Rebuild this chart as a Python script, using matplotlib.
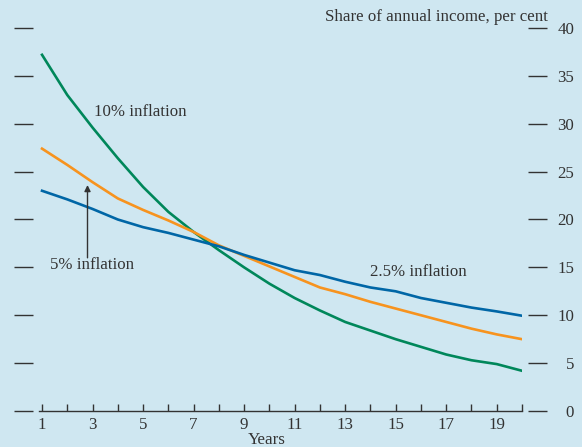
import matplotlib
matplotlib.use("Agg")
import matplotlib.pyplot as plt
import numpy as np

# data
years = list(range(1, 21))
infl_10 = [37.2, 33.0, 29.6, 26.4, 23.4, 20.8, 18.7, 16.8, 15.0, 13.3,
           11.8, 10.5, 9.3, 8.4, 7.5, 6.7, 5.9, 5.3, 4.9, 4.2]
infl_5 = [27.4, 25.7, 23.9, 22.2, 21.0, 19.9, 18.7, 17.3, 16.2, 15.1,
          14.0, 12.9, 12.2, 11.4, 10.7, 10.0, 9.3, 8.6, 8.0, 7.5]
infl_25 = [23.0, 22.1, 21.1, 20.0, 19.2, 18.6, 17.9, 17.2, 16.3, 15.5,
           14.7, 14.2, 13.5, 12.9, 12.5, 11.8, 11.3, 10.8, 10.4, 9.95]
xtick_labels = [1, 3, 5, 7, 9, 11, 13, 15, 17, 19]
ytick_values = [0, 5, 10, 15, 20, 25, 30, 35, 40]

bg = "#cfe7f1"
ink = "#333333"
fs = 12.2
plt.rcParams['font.family'] = ['Liberation Serif', 'DejaVu Serif']

fig = plt.figure(figsize=(5.82, 4.47), dpi=100, facecolor=bg)
ax = fig.add_axes([39 / 582, 1 - 411 / 447, (522 - 39) / 582, (411 - 28) / 447])
ax.set_facecolor(bg)

ax.plot(years, infl_10, color="#00875a", lw=1.9, solid_joinstyle="round")
ax.plot(years, infl_5, color="#f7931e", lw=1.9, solid_joinstyle="round")
ax.plot(years, infl_25, color="#0066a6", lw=1.9, solid_joinstyle="round")

ax.set_xlim(0.88, 20)
ax.set_ylim(0, 40)

for s in ["top", "left", "right"]:
    ax.spines[s].set_visible(False)
ax.spines["bottom"].set_color(ink)
ax.spines["bottom"].set_linewidth(1.0)

# x ticks: every year, labels on odd years
ax.set_xticks(xtick_labels)
ax.set_xticklabels([str(v) for v in xtick_labels])
ax.set_xticks(years, minor=True)
ax.tick_params(axis="x", which="both", direction="in", length=5, width=1.0,
               color=ink, labelsize=fs, labelcolor=ink, pad=4)

# y ticks: dashes on both sides, labels on right
ax.set_yticks(ytick_values)
ax.spines["left"].set_position(("outward", 4.5))
ax.spines["right"].set_position(("outward", 4.5))
ax.tick_params(axis="y", which="major", left=True, right=True,
               labelleft=False, labelright=True, direction="out",
               length=14, width=1.0, color=ink, labelsize=fs,
               labelcolor=ink, pad=19)
for lab in ax.get_yticklabels():
    lab.set_horizontalalignment("right")

ax.set_xlabel("Years", fontsize=fs, color=ink)
ax.xaxis.set_label_coords(0.472, -0.055)

fig.text(548 / 582, 1 - 17 / 447, "Share of annual income, per cent",
         ha="right", va="center", fontsize=fs, color=ink)

ax.text(3.06, 31.2, "10% inflation", fontsize=fs, color=ink, va="center")
ax.text(1.32, 15.3, "5% inflation", fontsize=fs, color=ink, va="center")
ax.text(14.0, 14.5, "2.5% inflation", fontsize=fs, color=ink, va="center")
ax.annotate("", xy=(2.8, 23.6), xytext=(2.8, 16.0),
            arrowprops=dict(arrowstyle="-|>", color=ink, lw=1.0,
                            mutation_scale=9, shrinkA=0, shrinkB=0))

fig.savefig("out.png", dpi=100, facecolor=bg)
